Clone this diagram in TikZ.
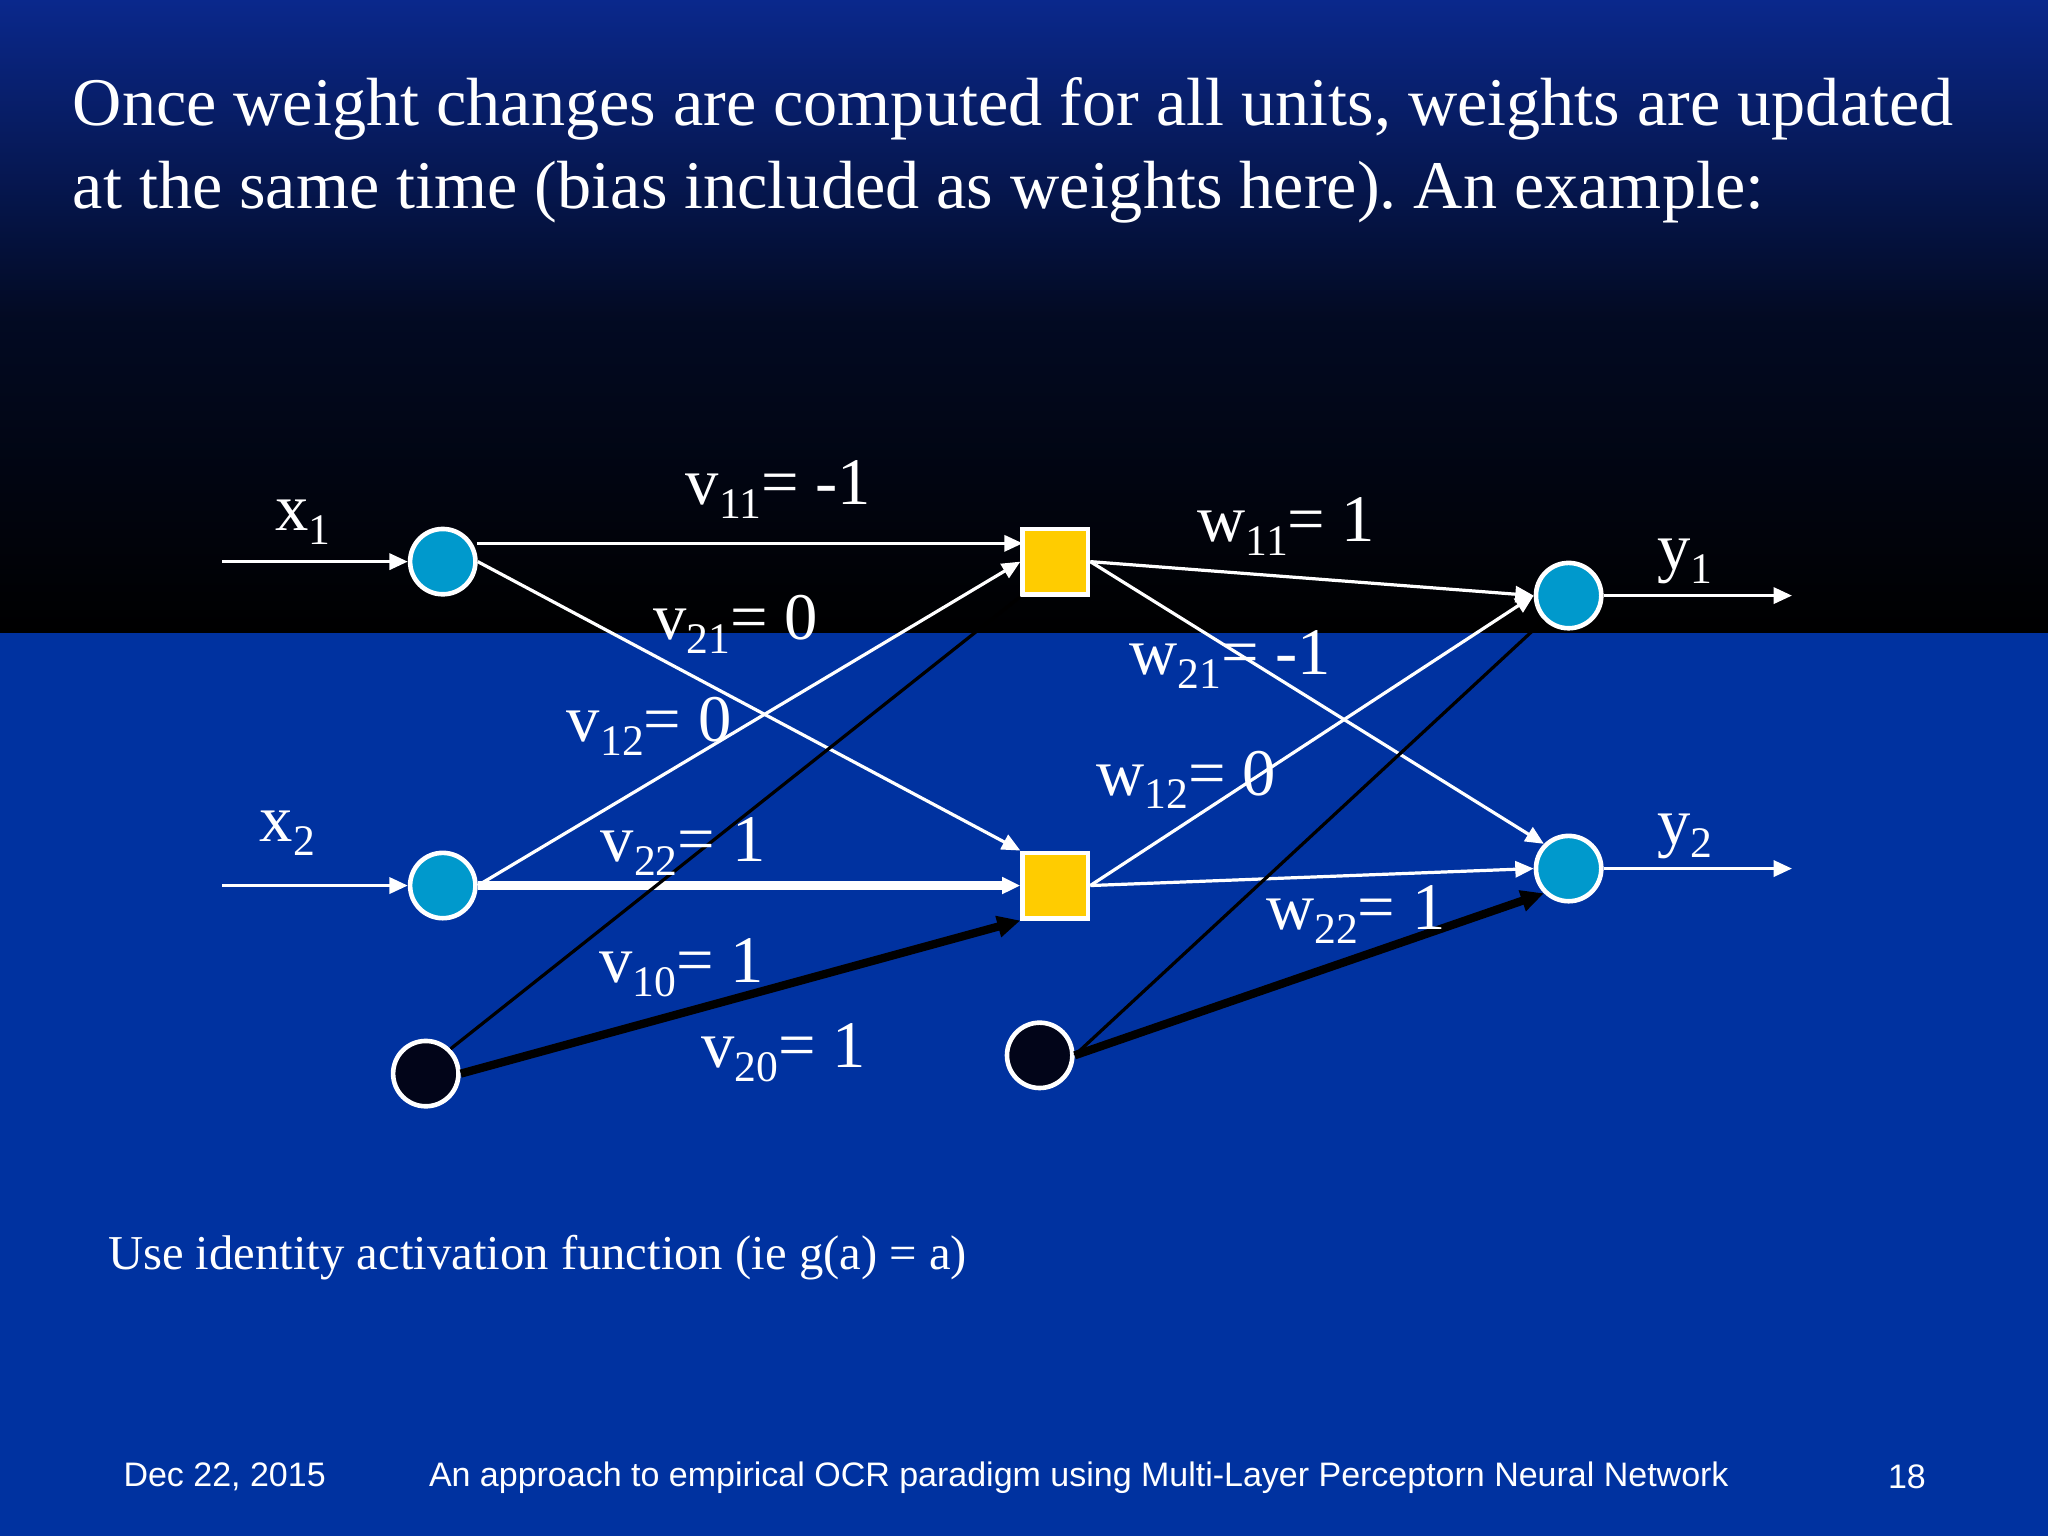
\documentclass[tikz,border=0pt]{standalone}
\usetikzlibrary{arrows.meta}
\usepackage{fontspec}
\setmainfont{Liberation Serif}
\newfontfamily\arialf{Liberation Sans}
\newcommand\lsub[1]{\raisebox{-0.45ex}{\fontsize{9.5}{11}\selectfont #1}}
\definecolor{bgb}{RGB}{0,50,160}
\definecolor{topb}{RGB}{10,40,140}
\definecolor{cyanc}{RGB}{0,153,204}
\definecolor{yelc}{RGB}{255,204,0}
\definecolor{darkc}{RGB}{2,5,25}
\begin{document}
\begin{tikzpicture}[x=0.01cm,y=-0.01cm,
  inp/.style={circle,draw=white,fill=cyanc,minimum size=0.5cm,inner sep=0,line width=1pt},
  bia/.style={circle,draw=white,fill=darkc,minimum size=0.5cm,inner sep=0,line width=1pt},
  hid/.style={rectangle,draw=white,fill=yelc,minimum size=0.5cm,inner sep=0,line width=1pt},
  wl/.style={text=white,font=\fontsize{14.5}{16}\selectfont,inner sep=0},
  wa/.style={white,-{Triangle[length=4pt,width=3.5pt]},line width=0.7pt},
  ba/.style={black,-{Triangle[length=5pt,width=4.5pt]},line width=1.8pt},
  bt/.style={black,line width=0.7pt}]
\fill[bgb] (0,0) rectangle (1568,1176);
\shade[top color=topb,bottom color=black,middle color=black!75!topb] (0,0) rectangle (1568,484);
\useasboundingbox (0,0) rectangle (1568,1176);
\node[anchor=west,text=white,font=\fontsize{14.85}{18}\selectfont\frenchspacing,align=left,inner sep=0] (title) at (55,115)
 {Once weight changes are computed for all units, weights are updated\\at the same time (bias included as weights here). An example:};
\node[inp] (x1) at (339,430) {};
\node[inp] (x2) at (339,678) {};
\node[bia] (b1) at (326,822) {};
\node[hid] (h1) at (808,430) {};
\node[hid] (h2) at (808,678) {};
\node[bia] (b2) at (796,808) {};
\node[inp] (o1) at (1201,456) {};
\node[inp] (o2) at (1201,665) {};
\coordinate (ix1) at (170,430);
\coordinate (ix2) at (170,678);
\coordinate (oy1) at (1372,456);
\coordinate (oy2) at (1372,665);
\coordinate (h1a) at (783,416);
\coordinate (x1a) at (365,416);
\draw[wa] (ix1) -- (x1);
\draw[wa] (ix2) -- (x2);
\draw[wa] (o1) -- (oy1);
\draw[wa] (o2) -- (oy2);
\draw[wa] (x1a) -- (h1a);
\draw[wa] (x1.east) -- (h2.north west);
\draw[wa] (x2.east) -- (h1.west);
\draw[wa,line width=2pt] (x2.east) -- (h2.west);
\draw[bt] (b1.north east) -- (h1.south west);
\draw[ba] (b1.east) -- (h2.south west);
\draw[wa] (h1.east) -- (o1.west);
\draw[wa] (h1.east) -- (o2.north west);
\draw[wa] (h2.east) -- (o1.west);
\draw[wa] (h2.east) -- (o2.west);
\draw[bt] (b2.east) -- (o1.south west);
\draw[ba] (b2.east) -- (o2.south west);
\node[wl] (lx1) at (232,400) {x\lsub{1}};
\node[wl] (lx2) at (220,638) {x\lsub{2}};
\node[wl] (ly1) at (1290,430) {y\lsub{1}};
\node[wl] (ly2) at (1290,640) {y\lsub{2}};
\node[wl] (l11) at (596,375) {v\lsub{11}= -1};
\node[wl] (l21) at (563,478) {v\lsub{21}= 0};
\node[wl] (l12) at (497,556) {v\lsub{12}= 0};
\node[wl] (l22) at (523,648) {v\lsub{22}= 1};
\node[wl] (l10) at (522,741) {v\lsub{10}= 1};
\node[wl] (l20) at (600,806) {v\lsub{20}= 1};
\node[wl] (m11) at (985,403) {w\lsub{11}= 1};
\node[wl] (m21) at (942,505) {w\lsub{21}= -1};
\node[wl] (m12) at (908,597) {w\lsub{12}= 0};
\node[wl] (m22) at (1038,700) {w\lsub{22}= 1};
\node[anchor=west,text=white,font=\fontsize{10.6}{11}\selectfont,inner sep=0] (use) at (82,963) {Use identity activation function (ie g(a) = a)};
\node[text=white,font=\arialf\fontsize{7.4}{9}\selectfont,inner sep=0] (d) at (172,1131) {Dec 22, 2015};
\node[text=white,font=\arialf\fontsize{7.4}{9}\selectfont,inner sep=0] (f) at (826,1131) {An approach to empirical OCR paradigm using Multi-Layer Perceptorn Neural Network};
\node[text=white,font=\arialf\fontsize{7.4}{9}\selectfont,inner sep=0] (n) at (1460,1131) {18};
\end{tikzpicture}
\end{document}
